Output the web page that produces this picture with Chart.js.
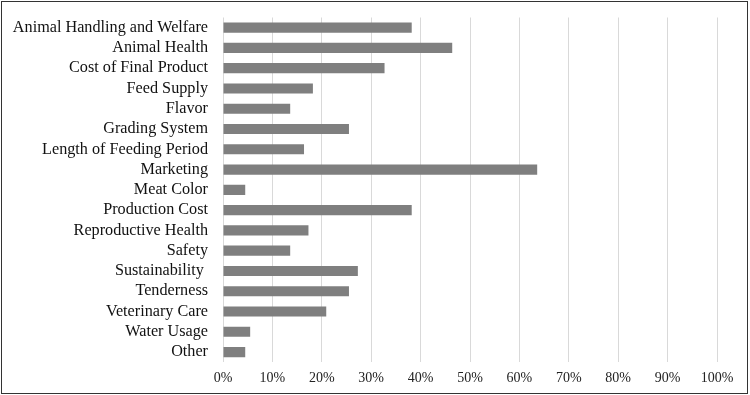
<!DOCTYPE html>
<html lang="en">
<head>
  <meta charset="UTF-8">
  <title>Concerns</title>
  <style>
    * { margin: 0; padding: 0; box-sizing: border-box; }
    body { background: #fff; width: 750px; height: 395px; overflow: hidden; }
    .wrap { position: relative; width: 750px; height: 395px; }
    canvas { position: absolute; left: 0; top: 0; }
    .frame {
      position: absolute;
      left: 1px; top: 1px;
      width: 747px; height: 393px;
      border: 1.5px solid #333;
      pointer-events: none;
    }
  </style>
</head>
<body>
  <div class="wrap">
    <canvas id="chart" width="750" height="395"></canvas>
    <div class="frame"></div>
  </div>

  <script src="https://cdn.jsdelivr.net/npm/chart.js"></script>
  <script>
    const categories = [
      'Animal Handling and Welfare', 'Animal Health', 'Cost of Final Product',
      'Feed Supply', 'Flavor', 'Grading System', 'Length of Feeding Period',
      'Marketing', 'Meat Color', 'Production Cost', 'Reproductive Health',
      'Safety', 'Sustainability ', 'Tenderness', 'Veterinary Care',
      'Water Usage', 'Other'
    ];
    const shares = [38.2, 46.4, 32.7, 18.2, 13.6, 25.5, 16.4, 63.6, 4.5, 38.2, 17.3, 13.6, 27.3, 25.5, 20.9, 5.5, 4.5];
    const xTicks = [0, 10, 20, 30, 40, 50, 60, 70, 80, 90, 100];

    const font = "'Liberation Serif', 'Times New Roman', serif";

    new Chart(document.getElementById('chart'), {
      type: 'bar',
      data: {
        labels: categories,
        datasets: [{
          data: shares,
          backgroundColor: '#7f7f7f',
          categoryPercentage: 0.5,
          barPercentage: 1.0
        }]
      },
      options: {
        indexAxis: 'y',
        responsive: false,
        animation: false,
        layout: { padding: { left: 0, right: 33, top: 17.5, bottom: 0 } },
        plugins: { legend: { display: false }, tooltip: { enabled: false } },
        scales: {
          x: {
            min: 0,
            max: 100,
            afterBuildTicks: s => { s.ticks = xTicks.map(v => ({ value: v })); },
            grid: { color: '#d9d9d9', lineWidth: 1, drawTicks: false },
            border: { display: false },
            ticks: {
              padding: 8,
              color: '#222',
              font: { family: font, size: 14 },
              callback: v => v + '%'
            }
          },
          y: {
            afterFit: s => { s.width = 223; s.paddingTop = 0; s.paddingBottom = 0; },
            grid: { display: false, drawTicks: false },
            border: { display: false },
            ticks: {
              autoSkip: false,
              padding: 15,
              color: '#111',
              font: { family: font, size: 16.2 }
            }
          }
        }
      }
    });
  </script>
</body>
</html>
